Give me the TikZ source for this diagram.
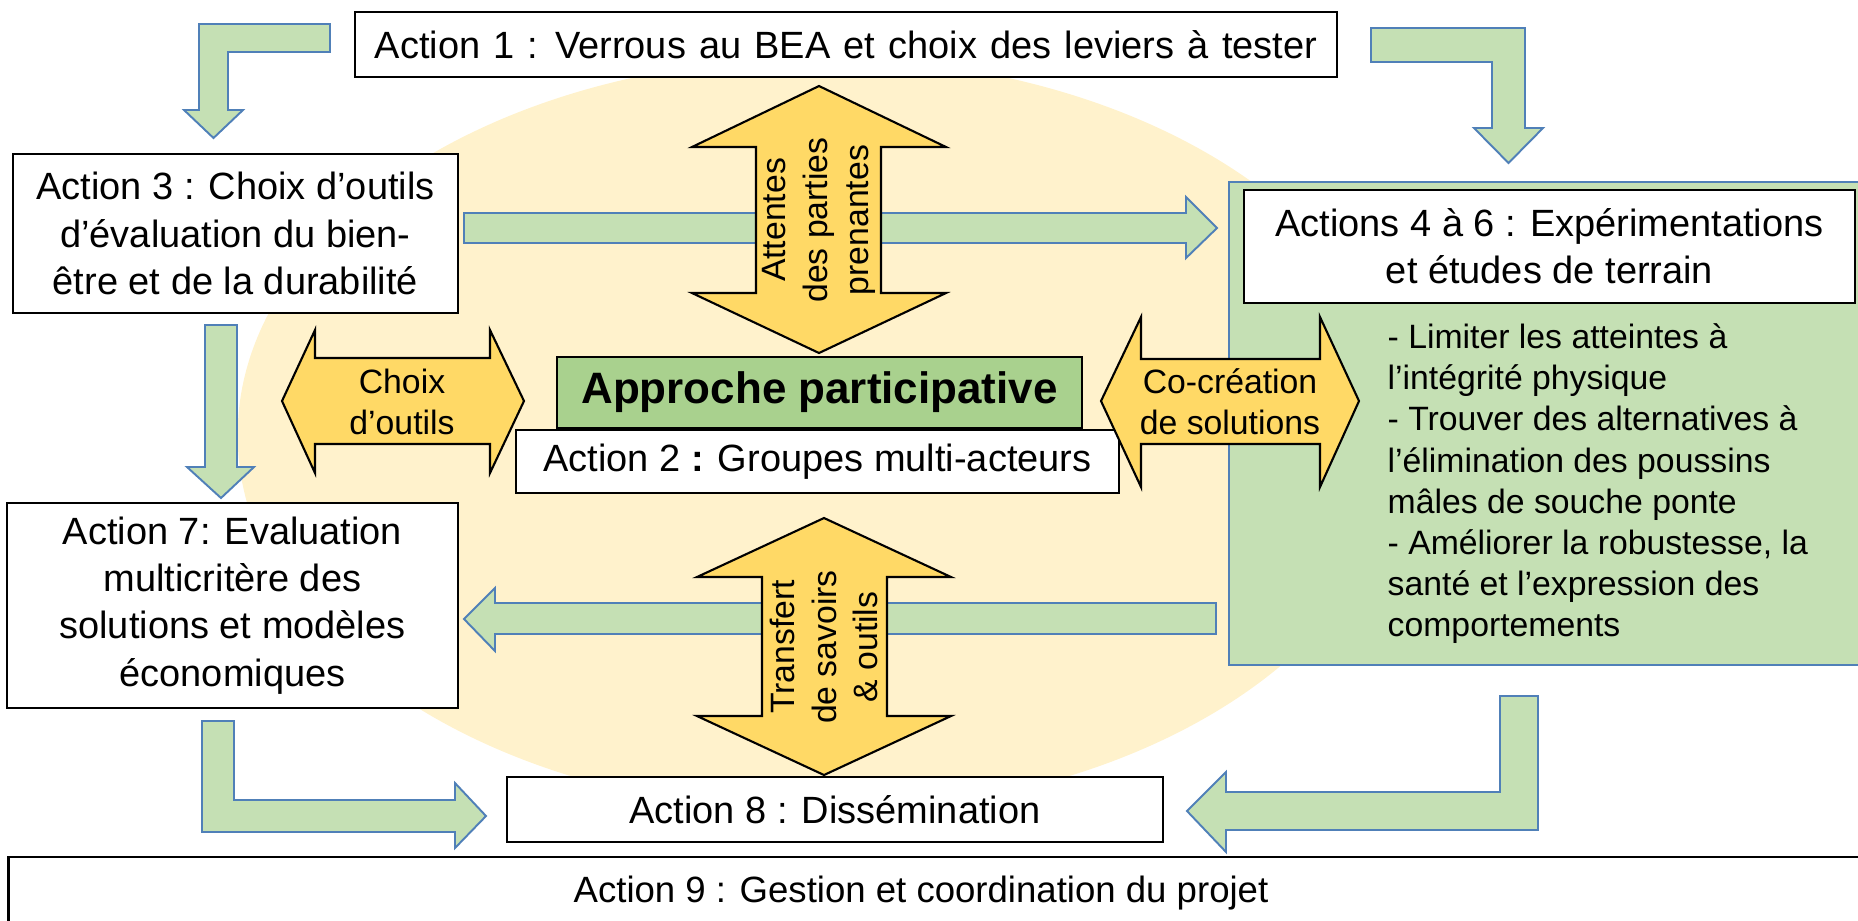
\documentclass[tikz,border=0pt]{standalone}
\usepackage{fontspec}
\setmainfont{Liberation Sans}

\definecolor{paleyellow}{HTML}{FFF2CC}
\definecolor{arrowyellow}{HTML}{FFD966}
\definecolor{palegreen}{HTML}{C5E0B4}
\definecolor{midgreen}{HTML}{A9D18E}
\definecolor{arrowblue}{HTML}{5080B8}

\begin{document}
\begin{tikzpicture}[x=0.01cm, y=-0.01cm,
    action/.style = {draw, line width=0.6pt, fill=white, align=center, inner sep=0pt,
                     font=\fontsize{10.8}{13.4}\selectfont},
    garrow/.style = {draw=arrowblue, line width=0.55pt, fill=palegreen},
    yarrow/.style = {draw, line width=0.6pt, fill=arrowyellow},
    small/.style = {align=center, inner sep=0pt, font=\fontsize{9.6}{11.7}\selectfont}]
    \useasboundingbox (0,0) rectangle (1858,920);
    \clip (0,0) rectangle (1858,920);

    % background
    \fill[paleyellow] (820,435) ellipse [x radius=5.82cm, y radius=3.77cm];

    % green arrows
    \draw[garrow] (330,24) -- (199,24) -- (199,110) -- (184,110) -- (213.5,138) -- (243,110) -- (228,110) -- (228,52) -- (330,52) -- cycle;
    \draw[garrow] (1371,28) -- (1525,28) -- (1525,128) -- (1543,128) -- (1508.5,163) -- (1474,128) -- (1492,128) -- (1492,62) -- (1371,62) -- cycle;
    \draw[garrow] (464,213) -- (1186,213) -- (1186,197) -- (1217,228) -- (1186,258) -- (1186,243) -- (464,243) -- cycle;
    \draw[garrow] (205,325) -- (237,325) -- (237,467) -- (254,467) -- (221,498) -- (187,467) -- (205,467) -- cycle;
    \draw[garrow] (1216,603) -- (1216,634) -- (495,634) -- (495,651) -- (464,619) -- (495,588) -- (495,603) -- cycle;
    \draw[garrow] (202,721) -- (234,721) -- (234,800) -- (455,800) -- (455,783) -- (486,816) -- (455,848) -- (455,832) -- (202,832) -- cycle;
    \draw[garrow] (1500,696) -- (1538,696) -- (1538,830) -- (1226,830) -- (1226,852) -- (1187,811) -- (1226,772) -- (1226,792) -- (1500,792) -- cycle;

    % boxes
    \node[action, minimum width=9.82cm, minimum height=0.65cm] (a1) at (846,44.5) {\spaceskip=1.25\fontdimen2\font Action 1 : Verrous au BEA et choix des leviers à tester};
    \node[action, minimum width=4.45cm, minimum height=1.59cm] (a3) at (235.5,233.5) {Action 3 : Choix d’outils\\d’évaluation du bien-\\être et de la durabilité};
    \node[action, minimum width=4.51cm, minimum height=2.05cm] (a7) at (232.5,605.5) {Action 7: Evaluation\\multicritère des\\solutions et modèles\\économiques};
    \node[action, minimum width=6.03cm, minimum height=0.63cm] (a2) at (817.5,461.5) {Action 2 \textbf{:} Groupes multi-acteurs};
    \node[action, fill=midgreen, minimum width=5.25cm, minimum height=0.71cm, font=\fontsize{12.5}{15}\selectfont\bfseries] (ap) at (819.5,392.5) {Approche participative};
    \node[draw=arrowblue, line width=0.6pt, fill=palegreen, minimum width=6.41cm, minimum height=4.83cm] (exp) at (1549.5,423.5) {};
    \node[action, minimum width=6.11cm, minimum height=1.13cm] (a46) at (1549.5,246.5) {Actions 4 à 6 : Expérimentations\\et études de terrain};
    \node[action, minimum width=6.56cm, minimum height=0.65cm] (a8) at (835,809.5) {Action 8 : Dissémination};
    \node[action, minimum width=18.61cm, minimum height=0.78cm] (a9) at (939.5,896) {};
    \node[action, draw=none, fill=none, font=\fontsize{10.4}{13}\selectfont] (a9txt) at (921,893) {Action 9 : Gestion et coordination du projet};
    \node[small, align=left, anchor=north west] (leviers) at (1387,323) {- Limiter les atteintes à\\l’intégrité physique\\- Trouver des alternatives à\\l’élimination des poussins\\mâles de souche ponte\\- Améliorer la robustesse, la\\santé et l’expression des\\comportements};

    % yellow arrows
    \draw[yarrow] (819,86) -- (946,147) -- (881,147) -- (881,293) -- (946,293) -- (819,353) -- (692,293) -- (756,293) -- (756,147) -- (692,147) -- cycle;
    \draw[yarrow] (282,401) -- (315,330) -- (315,358) -- (490,358) -- (490,330) -- (524,401) -- (490,473) -- (490,444) -- (315,444) -- (315,473) -- cycle;
    \draw[yarrow] (1101,401) -- (1141,317) -- (1141,359) -- (1320,359) -- (1320,317) -- (1359,401) -- (1320,487) -- (1320,444) -- (1141,444) -- (1141,487) -- cycle;
    \draw[yarrow] (824,518) -- (951,577) -- (887,577) -- (887,716) -- (951,716) -- (824,775) -- (697,716) -- (762,716) -- (762,577) -- (697,577) -- cycle;

    \node[small, rotate=90] (attentes) at (819,220) {Attentes\\des parties\\prenantes};
    \node[small] (choix) at (402,402) {Choix\\d’outils};
    \node[small] (cocrea) at (1230,402) {Co-création\\de solutions};
    \node[small, rotate=90] (transfert) at (824,647) {Transfert\\de savoirs\\\& outils};
\end{tikzpicture}
\end{document}
